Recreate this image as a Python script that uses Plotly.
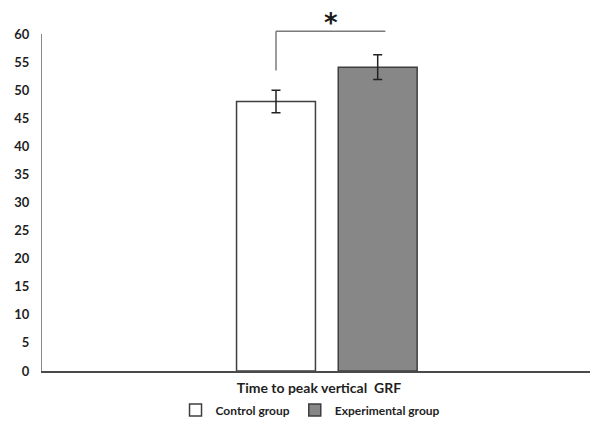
import plotly.graph_objects as go

categories = ["Time to peak vertical  GRF"]
groups = ["Control group", "Experimental group"]
means = [48.0, 54.1]
errors = [2.0, 2.2]
fills = ["#ffffff", "#878787"]
y_ticks = list(range(0, 61, 5))

bracket_low = 53.5
bracket_high = 60.5
y_max = 60

bar_w = 0.144
offsets = [-0.165, 0.0206]

fig = go.Figure()
for g, m, e, c, off in zip(groups, means, errors, fills, offsets):
    fig.add_trace(go.Bar(
        name=g, x=categories, y=[m], width=bar_w, offset=off,
        marker=dict(color=c, line=dict(color="#3f3f3f", width=1.5)),
        error_y=dict(type="data", array=[e], visible=True, color="#222222",
                     thickness=1.5, width=4.5),
        hoverinfo="skip",
    ))

xc_left = offsets[0] + bar_w / 2
xc_right = offsets[1] + bar_w / 2 + 0.014
fig.add_shape(type="line", xref="x", yref="paper", x0=xc_left, x1=xc_left,
              y0=bracket_low / y_max, y1=bracket_high / y_max,
              line=dict(color="#7a7a7a", width=1.5))
fig.add_shape(type="line", xref="x", yref="paper", x0=xc_left, x1=xc_right,
              y0=bracket_high / y_max, y1=bracket_high / y_max,
              line=dict(color="#7a7a7a", width=1.5))
fig.add_annotation(x=(xc_left + xc_right) / 2, xref="x", y=bracket_high / y_max,
                   yref="paper", text="<b>*</b>", showarrow=False,
                   yanchor="bottom", yshift=-9,
                   font=dict(size=26, color="#1a1a1a", family="DejaVu Sans"))

fig.update_layout(
    width=590, height=423,
    margin=dict(l=42, r=0, t=34, b=52, autoexpand=False),
    paper_bgcolor="white", plot_bgcolor="white",
    barmode="overlay",
    font=dict(family="Lato", color="#1f1f1f"),
    showlegend=True,
    legend=dict(orientation="h", x=0.49, xanchor="center", y=-0.116,
                yanchor="middle", font=dict(size=12, weight="bold", color="#1f1f1f"),
                traceorder="normal", itemwidth=30),
    xaxis=dict(type="category", range=[-0.52, 0.48], showline=True,
               linecolor="#4a4a4a", linewidth=2, showgrid=False,
               tickfont=dict(size=14, weight="bold", color="#1f1f1f"),
               ticks="", ticklabelshift=-8, ticklabelstandoff=3),
    yaxis=dict(range=[0, y_max], tickvals=y_ticks, showline=True,
               linecolor="#8a8a8a", linewidth=1, showgrid=False, zeroline=False,
               ticks="", tickfont=dict(size=13, weight="bold", color="#1f1f1f"),
               ticklabelstandoff=9),
)

# remove the default page margin so the figure fills the window exactly
fig.write_html("out.html",
               config={"displayModeBar": False},
               post_script="document.body.style.margin='0';document.body.style.overflow='hidden';")
